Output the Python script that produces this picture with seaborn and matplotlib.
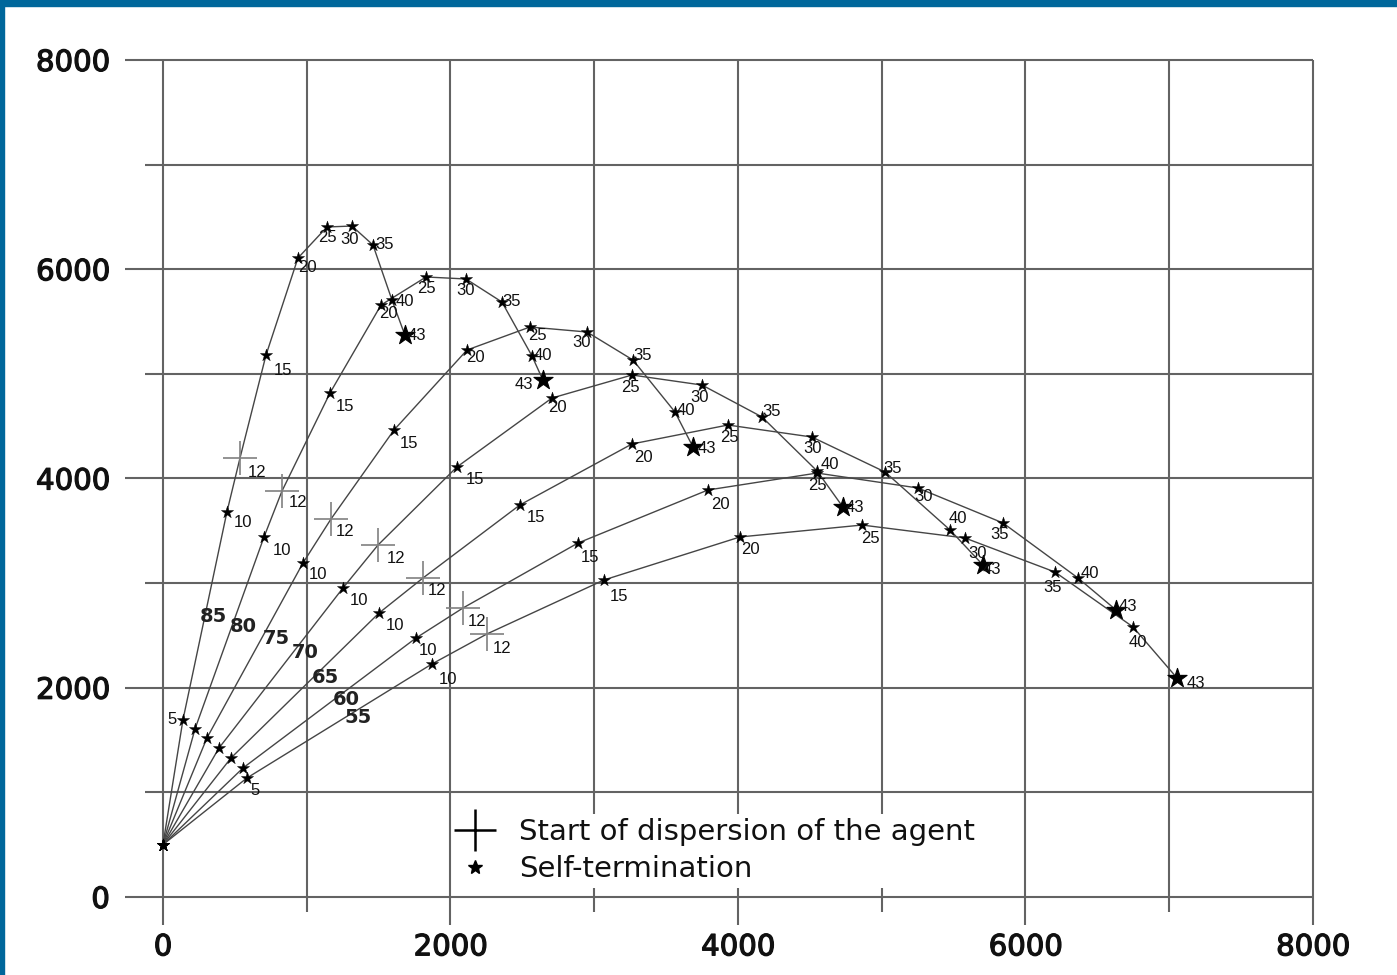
import numpy as np
import pandas as pd
import matplotlib
matplotlib.use("Agg")
import matplotlib.pyplot as plt
import seaborn as sns
from matplotlib.lines import Line2D
from matplotlib.patches import Rectangle
import matplotlib.patheffects as pe

sns.set_theme(style="white")
plt.rcParams["font.family"] = ["DejaVu Sans"]

# ---------------- data ----------------
angles = [85, 80, 75, 70, 65, 60, 55]
times = [0, 5, 10, 12, 15, 20, 25, 30, 35, 40, 43]

x_85 = [0, 139, 445, 536, 717, 939, 1141, 1315, 1461, 1593, 1683]
y_85 = [500, 1692, 3680, 4196, 5180, 6107, 6404, 6413, 6232, 5706, 5371]
x_80 = [0, 223, 703, 828, 1162, 1517, 1830, 2108, 2358, 2567, 2643]
y_80 = [500, 1606, 3441, 3880, 4817, 5658, 5926, 5907, 5687, 5171, 4941]
x_75 = [0, 306, 974, 1169, 1607, 2115, 2553, 2950, 3270, 3562, 3687]
y_75 = [500, 1520, 3192, 3613, 4463, 5228, 5448, 5400, 5132, 4635, 4301]
x_70 = [0, 390, 1252, 1496, 2045, 2706, 3263, 3750, 4167, 4550, 4730]
y_70 = [500, 1424, 2953, 3364, 4110, 4769, 4989, 4893, 4588, 4072, 3727]
x_65 = [0, 473, 1503, 1809, 2483, 3263, 3930, 4515, 5023, 5475, 5704]
y_65 = [500, 1328, 2714, 3049, 3747, 4330, 4511, 4396, 4062, 3508, 3173]
x_60 = [0, 557, 1760, 2087, 2887, 3791, 4550, 5252, 5843, 6365, 6630]
y_60 = [500, 1233, 2475, 2762, 3383, 3890, 4052, 3909, 3575, 3049, 2743]
x_55 = [0, 584, 1871, 2254, 3068, 4014, 4863, 5579, 6205, 6748, 7054]
y_55 = [500, 1137, 2227, 2514, 3030, 3441, 3555, 3431, 3106, 2581, 2093]

xs = {85: x_85, 80: x_80, 75: x_75, 70: x_70, 65: x_65, 60: x_60, 55: x_55}
ys = {85: y_85, 80: y_80, 75: y_75, 70: y_70, 65: y_65, 60: y_60, 55: y_55}

tick_values = list(range(0, 8001, 1000))
tick_labels = ["0", "", "2000", "", "4000", "", "6000", "", "8000"]

legend_labels = ["Start of dispersion of the agent", "Self-termination"]

# angle label positions (text placement)
angle_label_x = [348, 557, 786, 988, 1127, 1273, 1357]
angle_label_y = [2676, 2581, 2475, 2332, 2093, 1892, 1720]

rows = []
for a in angles:
    for t, xv, yv in zip(times, xs[a], ys[a]):
        rows.append({"angle": a, "t": t, "x": xv, "y": yv})
df = pd.DataFrame(rows)

# label offsets in pixels (dx right, dy down) relative to marker
offsets = {
    85: {5: (-11, 0), 10: (16, 11), 12: (17, 15), 15: (17, 15), 20: (9, 9), 25: (0, 11),
         30: (-2, 13), 35: (12, 0), 40: (13, 2), 43: (12, 0)},
    80: {10: (18, 14), 12: (16, 11), 15: (15, 13), 20: (7, 8), 25: (0, 12), 30: (0, 12),
         35: (10, 0), 40: (11, 0), 43: (-19, 4)},
    75: {10: (15, 11), 12: (14, 13), 15: (15, 13), 20: (8, 7), 25: (7, 9), 30: (-5, 10),
         35: (10, -5), 40: (11, -2), 43: (14, 2)},
    70: {10: (16, 12), 12: (18, 13), 15: (18, 13), 20: (5, 9), 25: (-2, 12), 30: (-2, 12),
         35: (10, -5), 40: (13, -6), 43: (12, 0)},
    65: {10: (16, 12), 12: (14, 13), 15: (16, 13), 20: (11, 14), 25: (2, 12), 30: (1, 11),
         35: (8, -3), 40: (8, -11), 43: (9, 4)},
    60: {10: (12, 12), 12: (14, 13), 15: (12, 14), 20: (13, 15), 25: (0, 12), 30: (6, 8),
         35: (-3, 12), 40: (12, -4), 43: (12, -3)},
    55: {5: (8, 12), 10: (16, 16), 12: (15, 15), 15: (15, 17), 20: (10, 13), 25: (8, 13),
         30: (13, 15), 35: (-2, 15), 40: (5, 16), 43: (19, 6)},
}

# ---------------- figure ----------------
W, H = 1397, 975
fig = plt.figure(figsize=(W / 100, H / 100), dpi=100)
fig.patch.set_facecolor("white")
ax = fig.add_axes([125 / W, 50 / H, 1188 / W, 865 / H])
ax.set_xlim(-264, 8000)
ax.set_ylim(-268, 8000)
for s in ax.spines.values():
    s.set_visible(False)

gcol = "#636363"
for v in tick_values:
    even = (v % 2000 == 0)
    ax.plot([-264 if even else -125, 8000], [v, v], color=gcol, lw=1.5, zorder=0,
            clip_on=False, solid_capstyle="butt")
    ax.plot([v, v], [-268 if even else -143, 8000], color=gcol, lw=1.5, zorder=0,
            clip_on=False, solid_capstyle="butt")

ax.set_xticks(tick_values)
ax.set_xticklabels(tick_labels)
ax.set_yticks(tick_values)
ax.set_yticklabels(tick_labels)
ax.tick_params(axis="both", length=0, labelsize=21, colors="#111111")
ax.tick_params(axis="y", pad=11)
ax.tick_params(axis="x", pad=6)
for lab in ax.get_xticklabels() + ax.get_yticklabels():
    lab.set_path_effects([pe.withStroke(linewidth=0.9, foreground="#111111")])

# trajectories
sns.lineplot(data=df, x="x", y="y", units="angle", estimator=None, sort=False,
             color="#454545", lw=1.0, ax=ax, legend=False, zorder=2)

normal = df[~df["t"].isin([12, 43])]
term = df[df["t"] == 43]
cross = df[df["t"] == 12]

sns.scatterplot(data=cross, x="x", y="y", marker="+", s=620, color="#808080",
                linewidth=1.2, ax=ax, legend=False, zorder=3)
sns.scatterplot(data=normal, x="x", y="y", marker="*", s=85, color="black",
                edgecolor="black", linewidth=0.3, ax=ax, legend=False, zorder=4)
sns.scatterplot(data=term, x="x", y="y", marker="*", s=210, color="black",
                edgecolor="black", linewidth=0.8, ax=ax, legend=False, zorder=4)

for _, r in df.iterrows():
    a, t = int(r["angle"]), int(r["t"])
    if t in offsets[a]:
        dx, dy = offsets[a][t]
        ax.annotate(str(t), (r["x"], r["y"]), xytext=(dx, -dy), textcoords="offset pixels",
                    ha="center", va="center", fontsize=12, family="Liberation Sans",
                    color="#111111", zorder=5)

for a, lx, ly in zip(angles, angle_label_x, angle_label_y):
    ax.text(lx, ly, str(a), ha="center", va="center", fontsize=14, fontweight="bold",
            color="#222222", zorder=5)

ax.set_xlabel("")
ax.set_ylabel("")

handles = [Line2D([], [], marker="+", ls="none", color="black", markersize=30, mew=1.8),
           Line2D([], [], marker="*", ls="none", color="black", markersize=10)]
leg = ax.legend(handles, legend_labels, loc="upper left",
                bbox_to_anchor=(452 / W, 1 - 814 / H), bbox_transform=fig.transFigure,
                frameon=True, fancybox=False, edgecolor="none", facecolor="white",
                framealpha=1, prop={"family": "DejaVu Sans", "size": 21},
                handletextpad=0.85, labelspacing=0.3, borderpad=0.15, handlelength=1.3,
                borderaxespad=0)
for txt in leg.get_texts():
    txt.set_color("#111111")
leg.set_zorder(6)

# blue frame
fig.patches.append(Rectangle((0, 1 - 6 / H), 1, 6 / H, transform=fig.transFigure,
                             color="#00679b", zorder=10))
fig.patches.append(Rectangle((0, 0), 4 / W, 1, transform=fig.transFigure,
                             color="#00679b", zorder=10))

fig.savefig("out.png", dpi=100)
